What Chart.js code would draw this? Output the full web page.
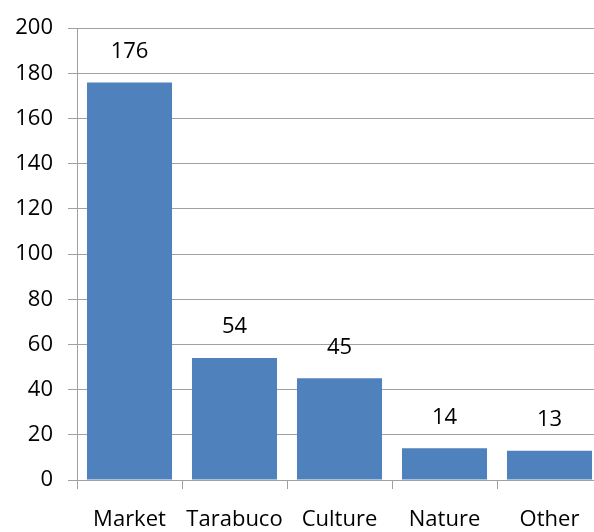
<!DOCTYPE html>
<html>
<head>
<meta charset="utf-8">
<script src="https://cdn.jsdelivr.net/npm/chart.js@4/dist/chart.umd.min.js"></script>
<style>
    html, body { margin: 0; padding: 0; background: #fff; overflow: hidden; }
    #wrap { width: 602px; height: 532px; }
</style>
</head>
<body>
<div id="wrap"><canvas id="barChart" width="602" height="532"></canvas></div>
<script>
const categorias = ["Market", "Tarabuco", "Culture", "Nature", "Other"];
const valores = [176, 54, 45, 14, 13];
const ticksY = [0, 20, 40, 60, 80, 100, 120, 140, 160, 180, 200];

const fuente = { family: "Open Sans", size: 22 };
const gris = "#a0a0a0";

// etiquetas de valor encima de cada barra
const etiquetasValor = {
    id: "etiquetasValor",
    afterDatasetsDraw(chart) {
        const ctx = chart.ctx;
        const meta = chart.getDatasetMeta(0);
        ctx.save();
        ctx.font = `${fuente.size}px ${fuente.family}`;
        ctx.fillStyle = "#000";
        ctx.textAlign = "center";
        ctx.textBaseline = "middle";
        meta.data.forEach((bar, i) => {
            ctx.fillText(String(valores[i]), bar.x, bar.y - 31);
        });
        ctx.restore();
    }
};

new Chart(document.getElementById("barChart"), {
    type: "bar",
    data: {
        labels: categorias,
        datasets: [{
            data: valores,
            backgroundColor: "#4f81bd",
            borderWidth: 0,
            barPercentage: 0.81,
            categoryPercentage: 1
        }]
    },
    options: {
        responsive: false,
        animation: false,
        layout: { padding: { top: 28, left: 0, right: 0, bottom: 0 } },
        plugins: { legend: { display: false }, tooltip: { enabled: false } },
        scales: {
            x: {
                offset: true,
                grid: { drawOnChartArea: false, drawTicks: true, tickLength: 9, color: gris, offset: true },
                border: { color: gris, width: 1 },
                ticks: { color: "#000", font: fuente, padding: 18, maxRotation: 0 },
                afterFit(scale) { scale.height = 52; }
            },
            y: {
                min: 0,
                max: 200,
                afterBuildTicks(scale) { scale.ticks = ticksY.map(v => ({ value: v })); },
                grid: { color: gris, tickLength: 9 },
                border: { color: gris, width: 1 },
                ticks: { color: "#000", font: fuente, padding: 15 },
                afterFit(scale) { scale.width = 77; }
            }
        }
    },
    plugins: [etiquetasValor]
});
</script>
</body>
</html>
